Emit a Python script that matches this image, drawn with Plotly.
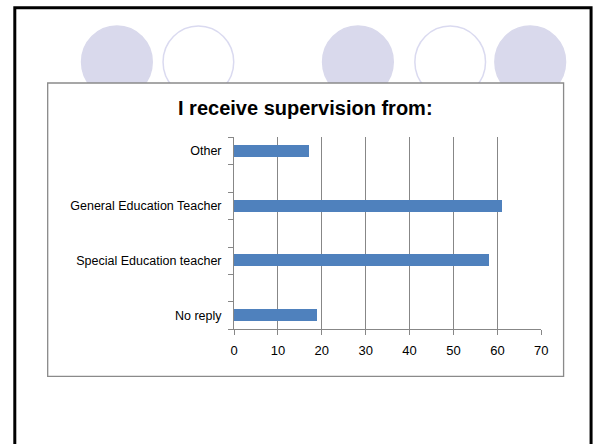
import plotly.graph_objects as go

# Data
categories = ["No reply", "Special Education teacher", "General Education Teacher", "Other"]
values = [19, 58, 61, 17]
x_ticks = [0, 10, 20, 30, 40, 50, 60, 70]
title_text = "I receive supervision from:"

W, H = 602, 444
def px(x):
    return x / W
def py(y):
    return 1 - y / H

# categories sit on every other slot of the category axis (empty slots in between)
ypos = [0, 2, 4, 6]

fig = go.Figure()
fig.add_trace(go.Bar(
    x=values, y=ypos, orientation="h", width=0.44,
    marker=dict(color="#4F81BD", line=dict(width=0)),
    hoverinfo="x",
))

shapes = []
# slide border
shapes.append(dict(type="rect", xref="paper", yref="paper",
                   x0=px(11), x1=px(598), y0=py(480), y1=py(7.8),
                   line=dict(color="#000000", width=3), fillcolor="rgba(0,0,0,0)", layer="below"))
# decorative circles
circ_fill = "#D9D9EC"
for cx, filled in [(115, True), (198, False), (360.5, True), (454.5, False), (536, True)]:
    shapes.append(dict(type="circle", xref="paper", yref="paper",
                       x0=px(cx - 36), x1=px(cx + 36), y0=py(98), y1=py(26),
                       line=dict(color="#DADAF0" if not filled else circ_fill, width=1.5),
                       fillcolor=circ_fill if filled else "rgba(0,0,0,0)", layer="below"))
# chart box
shapes.append(dict(type="rect", xref="paper", yref="paper",
                   x0=px(44.5), x1=px(570), y0=py(376.3), y1=py(83),
                   line=dict(color="#8A8A8A", width=1.3), fillcolor="#FFFFFF", layer="below"))

font_family = "Liberation Sans, Arial, sans-serif"

fig.update_layout(
    width=W, height=H,
    margin=dict(l=0, r=0, t=0, b=0),
    paper_bgcolor="#FFFFFF",
    plot_bgcolor="rgba(0,0,0,0)",
    showlegend=False,
    shapes=shapes,
    font=dict(family=font_family, color="#000000", size=13),
    annotations=[dict(text="<b>" + title_text + "</b>", xref="paper", yref="paper",
                      x=px(307.5), y=py(108), xanchor="center", yanchor="middle",
                      showarrow=False, font=dict(size=20, family=font_family, color="#000000"))],
    xaxis=dict(
        domain=[px(234.3), px(547.3)],
        range=[0, 70], tickvals=x_ticks, ticktext=[str(v) for v in x_ticks],
        showgrid=True, gridcolor="#878787", gridwidth=1,
        showline=True, linecolor="#878787", linewidth=1,
        ticks="outside", ticklen=5, tickcolor="#878787", tickwidth=1,
        ticklabelstandoff=4,
        zeroline=False, fixedrange=True,
        tickfont=dict(size=13, color="#000000"),
    ),
    yaxis=dict(
        domain=[py(329.3), py(137.3)],
        range=[-0.5, 6.5], tickvals=ypos, ticktext=categories,
        showgrid=False, zeroline=False,
        showline=True, linecolor="#878787", linewidth=1,
        ticks="", ticklabelstandoff=9,
        minor=dict(tick0=-0.5, dtick=1, ticks="outside", ticklen=5, tickcolor="#878787", tickwidth=1, showgrid=False),
        tickfont=dict(size=12.5, color="#000000"),
        fixedrange=True,
    ),
    bargap=0,
)

fig.write_html("out.html", config={"displayModeBar": False},
               post_script="document.body.style.margin='0px';document.body.style.overflow='hidden';")
